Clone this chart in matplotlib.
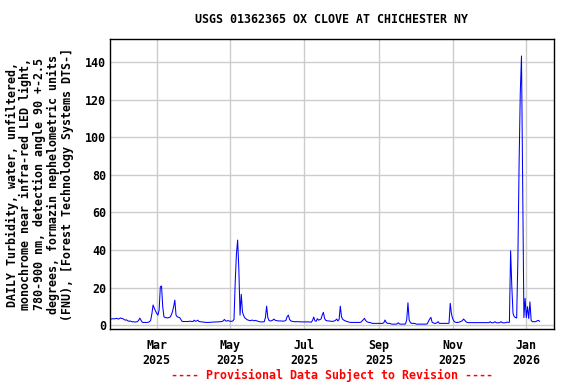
import numpy as np
import pandas as pd
import matplotlib
matplotlib.use("Agg")
import matplotlib.pyplot as plt

# daily turbidity values (FNU), Jan 22 2025 .. Jan 12 2026
jan25 = [3.2, 3.3, 3.4, 3.3, 3.5, 3.6, 3.2, 3.4, 3.8, 3.5]
feb25 = [3.4, 3.0, 2.6, 2.8, 2.3, 2.0, 2.2, 1.9, 1.7, 1.8, 1.6, 1.7, 1.8, 2.5,
         3.7, 2.6, 1.5, 1.4, 1.4, 1.4, 1.4, 1.5, 1.8, 2.5, 6.0, 10.7, 9.0, 7.5]
mar25 = [6.2, 5.3, 8.0, 20.4, 20.8, 9.7, 4.4, 4.0, 3.9, 3.8, 4.0, 4.2, 5.3, 7.0,
         9.8, 13.3, 5.3, 4.4, 4.2, 4.0, 3.0, 2.0, 1.9, 1.9, 1.9, 1.9, 1.9, 2.0,
         2.1, 1.9, 1.9]
apr25 = [2.6, 2.0, 2.2, 2.6, 1.9, 1.8, 1.7, 1.7, 1.5, 1.5, 1.4, 1.4, 1.4, 1.5,
         1.5, 1.6, 1.6, 1.6, 1.7, 1.7, 1.7, 1.8, 1.8, 1.9, 2.2, 3.0, 2.3, 2.1,
         2.4, 2.2]
may25 = [2.0, 2.0, 2.2, 3.0, 23.0, 37.8, 45.3, 29.7, 5.3, 16.4, 7.0, 5.0, 3.8,
         3.3, 2.8, 2.6, 2.4, 2.4, 2.7, 2.4, 2.3, 2.5, 2.2, 2.0, 1.8, 1.7, 1.7,
         1.7, 1.8, 4.0, 10.1]
jun25 = [4.0, 2.4, 2.2, 2.3, 2.6, 3.2, 2.6, 2.4, 2.3, 2.2, 2.2, 2.2, 2.1, 2.1,
         2.2, 2.6, 4.5, 5.3, 3.0, 2.3, 2.0, 1.9, 1.8, 1.8, 1.8, 1.8, 1.8, 1.7,
         1.7, 1.7]
jul25 = [1.7, 1.7, 1.7, 1.7, 1.7, 1.6, 1.5, 2.5, 4.3, 2.3, 2.0, 3.4, 2.6, 2.9,
         3.2, 5.3, 6.8, 3.5, 2.5, 2.3, 2.2, 2.2, 2.0, 2.0, 2.0, 2.2, 2.5, 3.2,
         2.2, 3.0, 10.1]
aug25 = [4.4, 3.0, 2.6, 2.3, 2.0, 1.8, 1.6, 1.5, 1.4, 1.4, 1.4, 1.4, 1.4, 1.4,
         1.4, 1.4, 1.5, 2.2, 2.8, 3.6, 2.4, 1.8, 1.5, 1.4, 1.3, 1.0, 0.9, 0.9,
         0.9, 0.9, 0.9]
sep25 = [0.9, 0.9, 0.9, 0.9, 1.2, 2.7, 1.5, 0.9, 0.9, 0.9, 0.6, 0.5, 0.5, 0.5,
         0.5, 0.6, 1.2, 0.6, 0.5, 0.5, 0.5, 0.5, 0.6, 3.0, 11.9, 2.7, 1.4, 0.9,
         0.9, 0.9]
oct25 = [0.8, 0.5, 0.5, 0.5, 0.5, 0.5, 0.5, 0.5, 0.5, 0.5, 0.7, 2.0, 3.2, 4.1,
         1.5, 1.2, 0.9, 0.9, 1.3, 1.8, 0.9, 0.9, 0.9, 0.9, 0.9, 0.9, 0.9, 0.9,
         1.0, 11.6, 6.0]
nov25 = [3.5, 2.2, 1.6, 1.4, 1.4, 1.5, 1.7, 2.0, 2.3, 3.2, 2.6, 1.8, 1.4, 1.3,
         1.3, 1.3, 1.3, 1.3, 1.3, 1.3, 1.3, 1.3, 1.3, 1.3, 1.3, 1.3, 1.3, 1.3,
         1.3, 1.3]
dec25 = [1.3, 1.8, 1.3, 1.2, 1.3, 1.8, 1.3, 1.2, 1.2, 1.3, 1.8, 1.3, 1.2, 1.2,
         1.3, 1.6, 1.4, 1.5, 39.6, 20.4, 6.2, 4.5, 4.0, 3.8, 34.6, 85.3, 123.8,
         143.4, 75.2, 4.0, 14.2]
jan26 = [4.0, 9.8, 3.5, 12.4, 2.5, 1.8, 1.8, 1.8, 1.9, 2.3, 2.5, 2.0]

tick_dates = ["2025-03-01", "2025-05-01", "2025-07-01", "2025-09-01",
              "2025-11-01", "2026-01-01"]
tick_labels = ["Mar\n2025", "May\n2025", "Jul\n2025", "Sep\n2025",
               "Nov\n2025", "Jan\n2026"]
yticks = [0, 20, 40, 60, 80, 100, 120, 140]

title = "USGS 01362365 OX CLOVE AT CHICHESTER NY"
ylabel = ("DAILY Turbidity, water, unfiltered,\n"
          "monochrome near infra-red LED light,\n"
          "780-900 nm, detection angle 90 +-2.5\n"
          "degrees, formazin nephelometric units\n"
          "(FNU), [Forest Technology Systems DTS-]")
note = "---- Provisional Data Subject to Revision ----"

values = jan25 + feb25 + mar25 + apr25 + may25 + jun25 + jul25 + aug25 + \
    sep25 + oct25 + nov25 + dec25 + jan26
dates = pd.date_range("2025-01-22", periods=len(values), freq="D")

plt.rcParams["font.family"] = ["DejaVu Sans Mono"]
plt.rcParams["font.weight"] = "bold"
fs = 8.4

fig = plt.figure(figsize=(5.76, 3.84), dpi=100)
ax = fig.add_axes([0.1915, 0.1432, 0.7703, 0.7545])

ax.plot(dates, values, color="#0000ff", lw=0.75)

ax.set_xlim(pd.Timestamp("2025-01-21 14:00"), pd.Timestamp("2026-01-23 22:00"))
ax.set_ylim(-2.1, 152.3)
ax.set_xticks(pd.to_datetime(tick_dates))
ax.set_xticklabels(tick_labels, fontsize=fs, fontweight="bold")
ax.set_yticks(yticks)
ax.set_yticklabels([str(v) for v in yticks], fontsize=fs, fontweight="bold")
ax.tick_params(axis="x", length=0, pad=7)
ax.tick_params(axis="y", length=0, pad=3)
ax.grid(True, color="#cccccc", lw=1)
ax.set_axisbelow(True)
for s in ax.spines.values():
    s.set_linewidth(1)
    s.set_color("black")

ax.set_ylabel(ylabel, fontsize=fs, fontweight="bold", labelpad=8,
              linespacing=1.08)

fig.text(0.576, 0.948, title, ha="center", va="center", fontsize=fs,
         fontweight="bold")
fig.text(0.576, 0.023, note, ha="center", va="center", fontsize=fs,
         fontweight="bold", color="red")

fig.savefig("out.png", dpi=100)
